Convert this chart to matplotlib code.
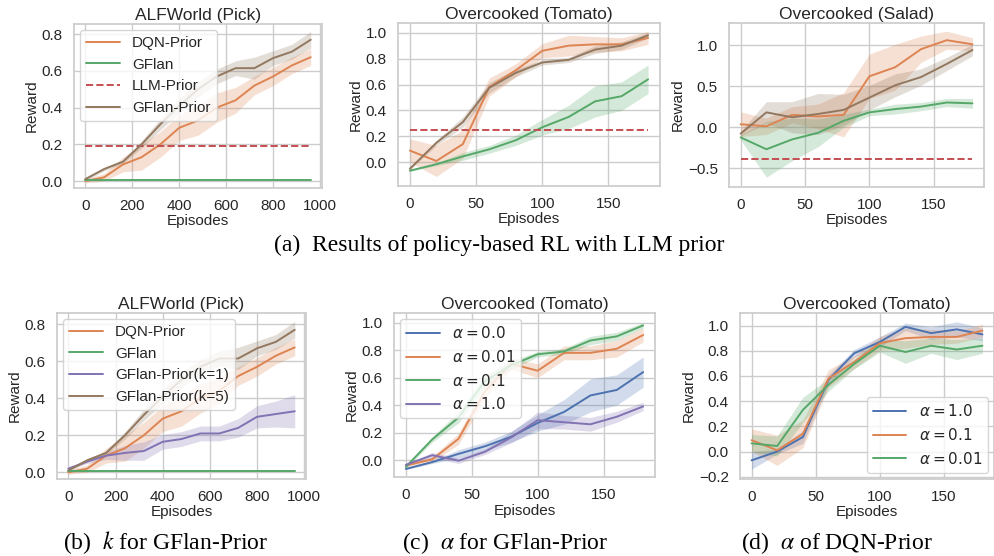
import numpy as np
import matplotlib
matplotlib.use("Agg")
import matplotlib.pyplot as plt
import seaborn as sns

sns.set_theme(style="whitegrid")
plt.rcParams['font.family'] = ['Liberation Sans', 'DejaVu Sans']

# palette (seaborn deep)
BLUE, ORANGE, GREEN, RED, PURPLE, BROWN = sns.color_palette("deep")[:6]

# ---------------- data ----------------
alf_ep = [0, 80, 160, 240, 320, 400, 480, 560, 640, 720, 800, 880, 960]
alf_dqn = [0.0, 0.02, 0.09, 0.13, 0.20, 0.29, 0.33, 0.40, 0.44, 0.52, 0.57, 0.63, 0.675]
alf_dqn_err = [0.01, 0.02, 0.04, 0.07, 0.07, 0.07, 0.08, 0.08, 0.07, 0.05, 0.05, 0.045, 0.045]
alf_gflan = [0.005] * 13
alf_gflan_err = [0.002] * 13
alf_gprior = [0.01, 0.065, 0.105, 0.20, 0.31, 0.41, 0.50, 0.57, 0.615, 0.615, 0.67, 0.705, 0.77]
alf_gprior_err = [0.01, 0.01, 0.01, 0.02, 0.03, 0.04, 0.04, 0.04, 0.04, 0.06, 0.04, 0.04, 0.045]
alf_gprior_k1 = [0.02, 0.058, 0.09, 0.105, 0.115, 0.165, 0.18, 0.21, 0.21, 0.24, 0.30, 0.315, 0.33]
alf_gprior_k1_err = [0.005, 0.01, 0.02, 0.04, 0.05, 0.04, 0.04, 0.04, 0.04, 0.05, 0.06, 0.07, 0.09]
alf_llm = 0.19

oc_ep = [0, 20, 40, 60, 80, 100, 120, 140, 160, 180]
tom_dqn = [0.09, 0.01, 0.14, 0.58, 0.71, 0.86, 0.90, 0.91, 0.91, 0.96]
tom_dqn_err = [0.09, 0.12, 0.11, 0.07, 0.05, 0.055, 0.08, 0.06, 0.05, 0.05]
tom_gflan = [-0.065, -0.015, 0.045, 0.10, 0.17, 0.27, 0.35, 0.47, 0.51, 0.64]
tom_gflan_err = [0.005, 0.01, 0.03, 0.03, 0.04, 0.06, 0.09, 0.12, 0.11, 0.11]
tom_gprior = [-0.05, 0.15, 0.31, 0.575, 0.69, 0.77, 0.79, 0.87, 0.90, 0.98]
tom_gprior_err = [0.01, 0.02, 0.04, 0.04, 0.03, 0.02, 0.02, 0.03, 0.03, 0.02]
tom_llm = 0.25

sal_dqn = [0.035, 0.01, 0.15, 0.13, 0.15, 0.62, 0.73, 0.95, 1.06, 1.01]
sal_dqn_err = [0.15, 0.10, 0.10, 0.15, 0.27, 0.27, 0.28, 0.16, 0.11, 0.08]
sal_gflan = [-0.125, -0.27, -0.15, -0.07, 0.077, 0.18, 0.22, 0.25, 0.30, 0.29]
sal_gflan_err = [0.03, 0.34, 0.26, 0.17, 0.08, 0.04, 0.06, 0.05, 0.05, 0.06]
sal_gprior = [-0.08, 0.18, 0.12, 0.16, 0.21, 0.36, 0.51, 0.61, 0.77, 0.94]
sal_gprior_err = [0.03, 0.13, 0.19, 0.25, 0.19, 0.15, 0.14, 0.10, 0.08, 0.07]
sal_llm = -0.39

# alpha sweep for GFlan-Prior (tomato)
ga_a00 = tom_gflan
ga_a00_err = tom_gflan_err
ga_a001 = [-0.04, 0.005, 0.155, 0.50, 0.70, 0.65, 0.78, 0.78, 0.81, 0.91]
ga_a001_err = [0.01, 0.02, 0.04, 0.05, 0.04, 0.05, 0.05, 0.05, 0.06, 0.05]
ga_a01 = tom_gprior
ga_a01_err = tom_gprior_err
ga_a1 = [-0.035, 0.035, -0.005, 0.06, 0.165, 0.29, 0.275, 0.26, 0.315, 0.39]
ga_a1_err = [0.01, 0.02, 0.02, 0.02, 0.04, 0.06, 0.05, 0.05, 0.04, 0.03]

# alpha sweep for DQN-Prior (tomato)
da_a1 = [-0.07, 0.0, 0.115, 0.57, 0.78, 0.87, 0.99, 0.94, 0.97, 0.93]
da_a1_err = [0.07, 0.02, 0.05, 0.04, 0.03, 0.04, 0.03, 0.05, 0.06, 0.05]
da_a01 = tom_dqn
da_a01_err = tom_dqn_err
da_a001 = [0.065, 0.044, 0.33, 0.53, 0.695, 0.84, 0.79, 0.84, 0.81, 0.84]
da_a001_err = [0.07, 0.08, 0.10, 0.05, 0.04, 0.05, 0.09, 0.06, 0.08, 0.06]

FS = 11
TFS = 12.5


def curve(ax, x, y, err, color, label):
    x = np.asarray(x); y = np.asarray(y); e = np.asarray(err)
    ax.plot(x, y, color=color, lw=1.4, label=label)
    ax.fill_between(x, y - e, y + e, color=color, alpha=0.25, lw=0)


def llm_line(ax, x, val):
    ax.plot([x[0], x[-1]], [val, val], color=RED, lw=1.4, ls='--', label='LLM-Prior')


def style(ax, title, ylim, xticks):
    ax.set_title(title, fontsize=TFS, pad=3, color='.15')
    ax.set_xlabel('Episodes', fontsize=FS, labelpad=1, color='.15')
    ax.set_ylabel('Reward', fontsize=FS, labelpad=2, color='.15')
    ax.set_ylim(*ylim)
    ax.set_xticks(xticks)
    ax.tick_params(labelsize=FS, pad=2, colors='.15')


fig = plt.figure(figsize=(9.95, 5.56), dpi=100)

# (a) row
ax1 = fig.add_axes([0.0744, 0.6619, 0.2492, 0.295])
curve(ax1, alf_ep, alf_dqn, alf_dqn_err, ORANGE, 'DQN-Prior')
curve(ax1, alf_ep, alf_gflan, alf_gflan_err, GREEN, 'GFlan')
llm_line(ax1, alf_ep, alf_llm)
curve(ax1, alf_ep, alf_gprior, alf_gprior_err, BROWN, 'GFlan-Prior')
style(ax1, 'ALFWorld (Pick)', (-0.038, 0.856), [0, 200, 400, 600, 800, 1000])
ax1.set_yticks([0.0, 0.2, 0.4, 0.6, 0.8])
ax1.legend(loc='upper left', fontsize=FS, borderaxespad=0.4, handlelength=2.2)

ax2 = fig.add_axes([0.40, 0.6655, 0.2633, 0.2932])
curve(ax2, oc_ep, tom_dqn, tom_dqn_err, ORANGE, 'DQN-Prior')
curve(ax2, oc_ep, tom_gflan, tom_gflan_err, GREEN, 'GFlan')
llm_line(ax2, oc_ep, tom_llm)
curve(ax2, oc_ep, tom_gprior, tom_gprior_err, BROWN, 'GFlan-Prior')
style(ax2, 'Overcooked (Tomato)', (-0.183, 1.075), [0, 50, 100, 150])
ax2.set_yticks([0.0, 0.2, 0.4, 0.6, 0.8, 1.0])

ax3 = fig.add_axes([0.7327, 0.6637, 0.2563, 0.295])
curve(ax3, oc_ep, sal_dqn, sal_dqn_err, ORANGE, 'DQN-Prior')
curve(ax3, oc_ep, sal_gflan, sal_gflan_err, GREEN, 'GFlan')
llm_line(ax3, oc_ep, sal_llm)
curve(ax3, oc_ep, sal_gprior, sal_gprior_err, BROWN, 'GFlan-Prior')
style(ax3, 'Overcooked (Salad)', (-0.73, 1.27), [0, 50, 100, 150])
ax3.set_yticks([-0.5, 0.0, 0.5, 1.0])

# (b)
axb = fig.add_axes([0.0573, 0.1385, 0.2503, 0.2986])
curve(axb, alf_ep, alf_dqn, alf_dqn_err, ORANGE, 'DQN-Prior')
curve(axb, alf_ep, alf_gflan, alf_gflan_err, GREEN, 'GFlan')
curve(axb, alf_ep, alf_gprior_k1, alf_gprior_k1_err, PURPLE, 'GFlan-Prior(k=1)')
curve(axb, alf_ep, alf_gprior, alf_gprior_err, BROWN, 'GFlan-Prior(k=5)')
style(axb, 'ALFWorld (Pick)', (-0.036, 0.861), [0, 200, 400, 600, 800, 1000])
axb.set_yticks([0.0, 0.2, 0.4, 0.6, 0.8])
axb.legend(loc='upper left', fontsize=FS, borderaxespad=0.4, handlelength=2.2)

# (c)
axc = fig.add_axes([0.396, 0.142, 0.2623, 0.295])
curve(axc, oc_ep, ga_a00, ga_a00_err, BLUE, r'$\alpha=0.0$')
curve(axc, oc_ep, ga_a001, ga_a001_err, ORANGE, r'$\alpha=0.01$')
curve(axc, oc_ep, ga_a01, ga_a01_err, GREEN, r'$\alpha=0.1$')
curve(axc, oc_ep, ga_a1, ga_a1_err, PURPLE, r'$\alpha=1.0$')
style(axc, 'Overcooked (Tomato)', (-0.124, 1.07), [0, 50, 100, 150])
axc.set_yticks([0.0, 0.2, 0.4, 0.6, 0.8, 1.0])
axc.legend(loc='upper left', fontsize=FS, borderaxespad=0.4, handlelength=2.2)

# (d)
axd = fig.add_axes([0.7437, 0.1385, 0.2553, 0.2986])
curve(axd, oc_ep, da_a1, da_a1_err, BLUE, r'$\alpha=1.0$')
curve(axd, oc_ep, da_a01, da_a01_err, ORANGE, r'$\alpha=0.1$')
curve(axd, oc_ep, da_a001, da_a001_err, GREEN, r'$\alpha=0.01$')
style(axd, 'Overcooked (Tomato)', (-0.218, 1.10), [0, 50, 100, 150])
axd.set_yticks([-0.2, 0.0, 0.2, 0.4, 0.6, 0.8, 1.0])
axd.legend(loc='lower right', fontsize=FS, borderaxespad=0.4, handlelength=2.2)

# captions
cap = dict(fontsize=17, family=['Liberation Serif', 'DejaVu Serif'], ha='center', va='center',
           math_fontfamily='stix', color='black')
fig.text(0.502, 0.559, '(a)  Results of policy-based RL with LLM prior', **cap)
fig.text(0.166, 0.024, r'(b)  $k$ for GFlan-Prior', **cap)
fig.text(0.508, 0.024, r'(c)  $\alpha$ for GFlan-Prior', **cap)
fig.text(0.841, 0.024, r'(d)  $\alpha$ of DQN-Prior', **cap)

fig.savefig('out.png', dpi=100)
